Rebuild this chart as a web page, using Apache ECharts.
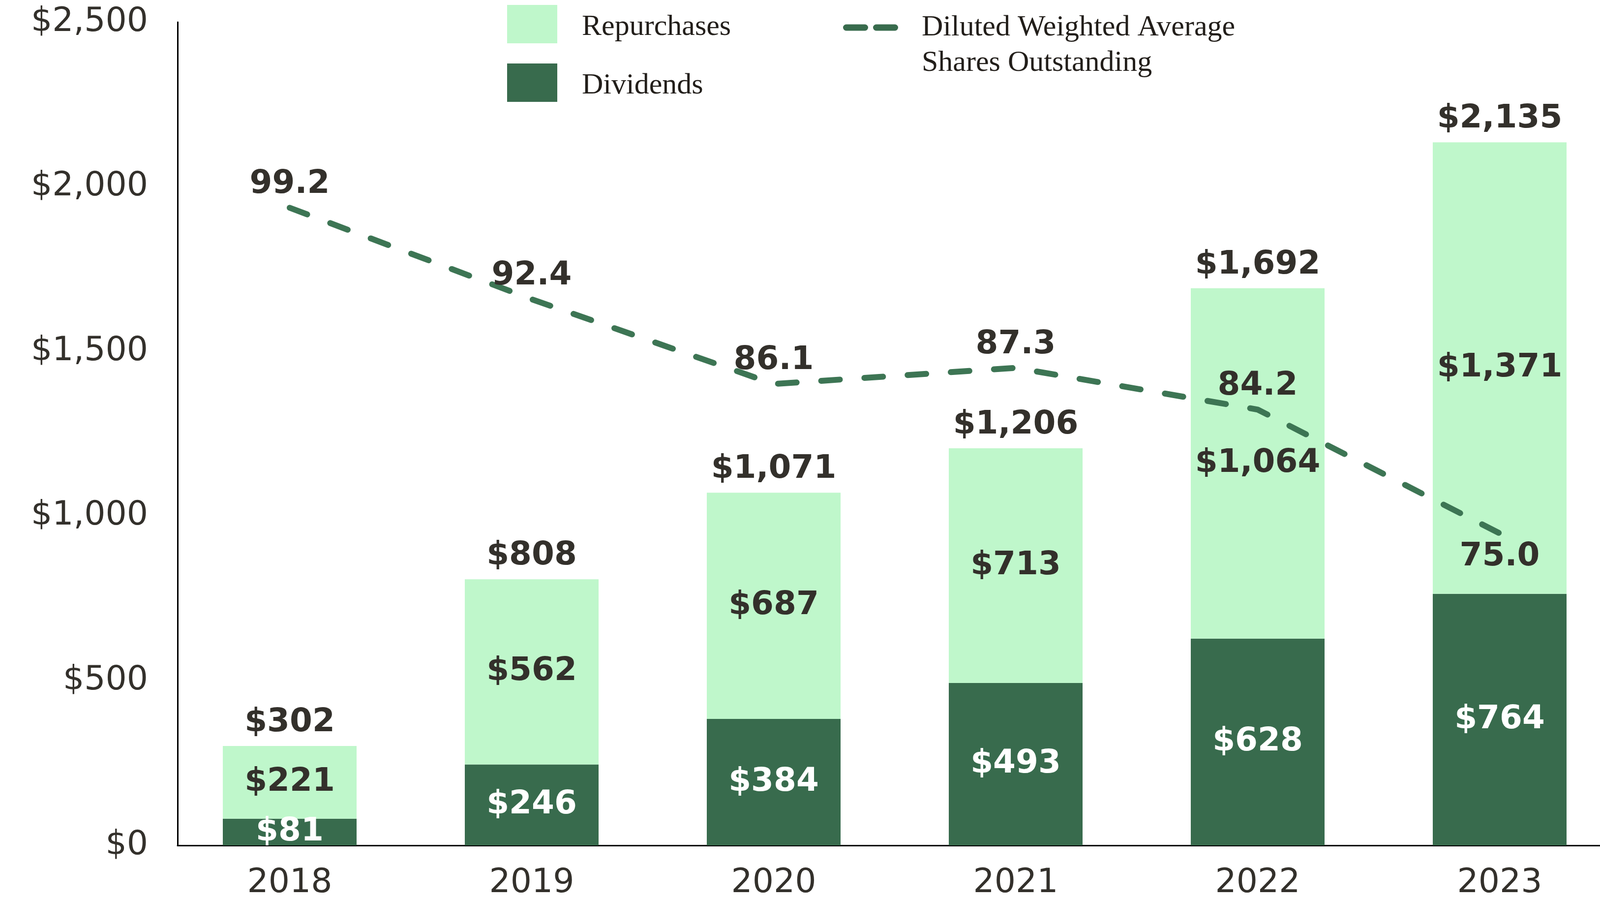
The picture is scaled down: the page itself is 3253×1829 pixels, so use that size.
<!DOCTYPE html>
<html>
<head>
<meta charset="utf-8">
<style>
  html, body { margin: 0; padding: 0; background: #ffffff; }
  #chart { width: 3253px; height: 1829px; }
</style>
<script src="https://cdn.jsdelivr.net/npm/echarts@6/dist/echarts.min.js"></script>
</head>
<body>
<div id="chart"></div>
<script>
const years = ['2018', '2019', '2020', '2021', '2022', '2023'];
const dividends = [81, 246, 384, 493, 628, 764];
const repurchases = [221, 562, 687, 713, 1064, 1371];
const totals = [302, 808, 1071, 1206, 1692, 2135];
const shares = [99.2, 92.4, 86.1, 87.3, 84.2, 75.0];
const yTickLabels = ['$0', '$500', '$1,000', '$1,500', '$2,000', '$2,500'];

const LIGHT = '#BFF7CB';
const DARK = '#386B4D';
const TEXT = '#33302B';
const NUMFONT = '"DejaVu Sans", sans-serif';
const SERIF = '"Liberation Serif", "DejaVu Serif", serif';
const LINE_NAME = 'Diluted Weighted Average\nShares Outstanding';

const money = v => '$' + Number(v).toLocaleString('en-US');

const chart = echarts.init(document.getElementById('chart'), null, { renderer: 'canvas' });

const barLabel = (color) => ({
  show: true,
  position: 'inside',
  color: color,
  fontFamily: NUMFONT,
  fontWeight: 'bold',
  fontSize: 66,
  formatter: p => money(p.value)
});

const option = {
  animation: false,
  backgroundColor: '#ffffff',
  grid: [
    { left: 589, right: 204, top: 45, bottom: 111 },
    { left: 361, right: 0, top: 45, bottom: 111 }
  ],
  legend: [
    {
      orient: 'vertical',
      left: 1031,
      top: 10,
      padding: 0,
      itemWidth: 102,
      itemHeight: 78,
      itemGap: 41,
      selectedMode: false,
      icon: 'rect',
      data: ['Repurchases', 'Dividends'],
      formatter: name => '{t|' + name + '}',
      textStyle: {
        fontFamily: SERIF,
        fontSize: 60,
        color: '#221E1A',
        padding: [0, 0, 0, 45],
        rich: {
          t: {
            fontFamily: SERIF,
            fontSize: 60,
            color: '#221E1A',
            padding: [12, 0, 0, 0]
          }
        }
      }
    },
    {
      orient: 'vertical',
      left: 1714,
      top: -52,
      padding: 0,
      itemWidth: 112,
      itemHeight: 13,
      selectedMode: false,
      formatter: name => '\n' + name,
      data: [{
        name: LINE_NAME,
        icon: 'path://M6.5,0 H44.5 A6.5,6.5 0 0 1 44.5,13 H6.5 A6.5,6.5 0 0 1 6.5,0 Z M67.5,0 H105.5 A6.5,6.5 0 0 1 105.5,13 H67.5 A6.5,6.5 0 0 1 67.5,0 Z',
        itemStyle: { color: DARK, borderWidth: 0 }
      }],
      textStyle: {
        fontFamily: SERIF,
        fontSize: 60,
        lineHeight: 72,
        color: '#221E1A',
        padding: [0, 0, 0, 43]
      }
    }
  ],
  xAxis: [
    {
      type: 'category',
      gridIndex: 0,
      boundaryGap: false,
      data: years,
      axisLine: { show: false },
      axisTick: { show: false },
      axisLabel: {
        fontFamily: NUMFONT,
        fontSize: 68,
        color: TEXT,
        margin: 43
      }
    },
    {
      type: 'value',
      gridIndex: 1,
      min: 0,
      max: 1,
      axisLine: { show: true, onZero: false, lineStyle: { color: '#000000', width: 3 } },
      axisTick: { show: false },
      axisLabel: { show: false },
      splitLine: { show: false }
    }
  ],
  yAxis: [
    {
      type: 'value',
      gridIndex: 0,
      min: 0,
      max: 2500,
      interval: 500,
      show: false
    },
    {
      type: 'value',
      gridIndex: 1,
      min: 0,
      max: 2500,
      interval: 500,
      axisLine: { show: true, lineStyle: { color: '#000000', width: 3 } },
      axisTick: { show: false },
      splitLine: { show: false },
      axisLabel: {
        fontFamily: NUMFONT,
        fontSize: 68,
        color: TEXT,
        margin: 60,
        formatter: v => yTickLabels[Math.round(v / 500)]
      }
    },
    {
      type: 'value',
      gridIndex: 0,
      min: 51.8,
      max: 113,
      show: false
    }
  ],
  series: [
    {
      name: 'Dividends',
      type: 'bar',
      stack: 'total',
      xAxisIndex: 0,
      yAxisIndex: 0,
      barWidth: 272,
      clip: false,
      itemStyle: { color: DARK },
      label: barLabel('#ffffff'),
      data: dividends,
      z: 2
    },
    {
      name: 'Repurchases',
      type: 'bar',
      stack: 'total',
      xAxisIndex: 0,
      yAxisIndex: 0,
      barWidth: 272,
      clip: false,
      itemStyle: { color: LIGHT },
      label: barLabel(TEXT),
      data: repurchases,
      z: 2
    },
    {
      name: 'Total',
      type: 'scatter',
      xAxisIndex: 0,
      yAxisIndex: 0,
      symbolSize: 0,
      clip: false,
      itemStyle: { color: 'transparent', opacity: 1 },
      label: {
        show: true,
        position: 'top',
        distance: 14,
        color: TEXT,
        opacity: 1,
        fontFamily: NUMFONT,
        fontWeight: 'bold',
        fontSize: 66,
        formatter: p => money(Array.isArray(p.value) ? p.value[1] : p.value)
      },
      data: totals,
      z: 3
    },
    {
      name: LINE_NAME,
      type: 'line',
      xAxisIndex: 0,
      yAxisIndex: 2,
      symbol: 'circle',
      symbolSize: 0,
      showSymbol: true,
      clip: false,
      itemStyle: { color: DARK },
      lineStyle: { color: DARK, width: 12, type: [38, 50], cap: 'round' },
      label: {
        show: true,
        position: 'top',
        distance: 14,
        color: TEXT,
        fontFamily: NUMFONT,
        fontWeight: 'bold',
        fontSize: 66,
        formatter: p => Number(p.value).toFixed(1)
      },
      data: shares.map((v, i) => i === shares.length - 1
        ? { value: v, label: { position: 'bottom', distance: 14 } }
        : v),
      z: 5
    }
  ]
};

chart.setOption(option);
</script>
</body>
</html>
